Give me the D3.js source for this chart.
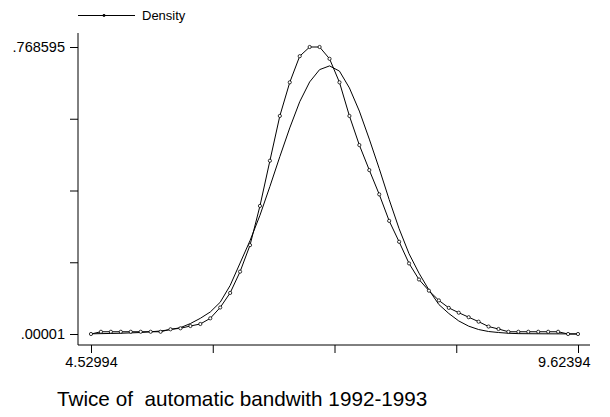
<!DOCTYPE html>
<html>
<head>
<meta charset="utf-8">
<script src="https://cdn.jsdelivr.net/npm/d3@7"></script>
<style>
  body { margin: 0; background: #fff; }
  svg { display: block; font-family: "Liberation Sans", Arial, sans-serif; }
</style>
</head>
<body>
<div id="chart"></div>
<script>
// evaluation grid (log wage) and the two curves
const gridX = [4.5299, 4.6339, 4.7378, 4.8418, 4.9458, 5.0497, 5.1537, 5.2577, 5.3617, 5.4656,
  5.5696, 5.6735, 5.7775, 5.8814, 5.9854, 6.0893, 6.1933, 6.2972, 6.4012, 6.5052,
  6.6091, 6.7131, 6.8170, 6.9210, 7.0250, 7.1289, 7.2329, 7.3368, 7.4408, 7.5447,
  7.6487, 7.7527, 7.8566, 7.9606, 8.0645, 8.1685, 8.2724, 8.3764, 8.4804, 8.5843,
  8.6883, 8.7922, 8.8962, 9.0001, 9.1041, 9.2081, 9.3120, 9.4160, 9.5199, 9.6239];

const density = [0.00001, 0.006, 0.006, 0.006, 0.006, 0.006, 0.006, 0.006, 0.0126, 0.0153,
  0.0214, 0.0268, 0.042, 0.071, 0.110, 0.167, 0.238, 0.343, 0.464, 0.584,
  0.674, 0.744, 0.768595, 0.768595, 0.737, 0.674, 0.584, 0.506, 0.439, 0.374,
  0.303, 0.247, 0.189, 0.146, 0.116, 0.090, 0.070, 0.057, 0.045, 0.033,
  0.020, 0.0134, 0.006, 0.006, 0.006, 0.006, 0.006, 0.006, 0.00001, 0.00001];

const normal = [0.0005, 0.001, 0.0015, 0.002, 0.003, 0.004, 0.006, 0.008, 0.012, 0.017,
  0.028, 0.042, 0.059, 0.085, 0.13, 0.19, 0.25, 0.318, 0.395, 0.475,
  0.552, 0.622, 0.675, 0.708, 0.718, 0.704, 0.659, 0.597, 0.522, 0.443,
  0.360, 0.282, 0.215, 0.163, 0.118, 0.079, 0.055, 0.035, 0.021, 0.012,
  0.0067, 0.004, 0.002, 0.001, 0.0008, 0.0006, 0.0005, 0.0004, 0.0003, 0.0002];

const xTicks = [4.52994, 5.80344, 7.07694, 8.35044, 9.62394];
const yTicks = [0.00001, 0.1921, 0.38430, 0.57645, 0.768595];
const xLabels = ["4.52994", "", "", "", "9.62394"];
const yLabels = [".00001", "", "", "", ".768595"];
const legendLabel = "Density";
const title = "Twice of  automatic bandwith 1992-1993";

const width = 610, height = 417;
const axisX = 78, axisY = 345;

// SCALES
const xScale = d3.scaleLinear().domain([4.52994, 9.62394]).range([91, 578]);
const yScale = d3.scaleLinear().domain([0.00001, 0.768595]).range([334, 47]);

const svg = d3.select("#chart")
  .append("svg")
  .attr("width", width)
  .attr("height", height);

svg.append("rect").attr("width", width).attr("height", height).attr("fill", "#fff");

// AXES
const yAxis = d3.axisLeft(yScale)
  .tickValues(yTicks)
  .tickSize(8)
  .tickPadding(5)
  .tickFormat((d, i) => yLabels[i]);

const xAxis = d3.axisBottom(xScale)
  .tickValues(xTicks)
  .tickSize(8)
  .tickPadding(4)
  .tickFormat((d, i) => xLabels[i]);

const gy = svg.append("g")
  .attr("transform", `translate(${axisX},0)`)
  .call(yAxis);
gy.select(".domain").remove();
gy.selectAll("text").attr("font-size", 14.5).attr("fill", "#000").attr("font-family", null);
gy.selectAll("line").attr("stroke", "#000");

const gx = svg.append("g")
  .attr("transform", `translate(0,${axisY})`)
  .call(xAxis);
gx.select(".domain").remove();
gx.selectAll("text").attr("font-size", 14.5).attr("fill", "#000").attr("font-family", null);
gx.selectAll("line").attr("stroke", "#000");
// last label pulled back inside the axis, like the original
gx.selectAll(".tick").filter((d, i) => i === xTicks.length - 1)
  .select("text").attr("text-anchor", "end").attr("x", 12);

// axis lines
svg.append("line")
  .attr("x1", axisX).attr("x2", axisX)
  .attr("y1", 33).attr("y2", axisY)
  .attr("stroke", "#000");
svg.append("line")
  .attr("x1", axisX).attr("x2", 590)
  .attr("y1", axisY).attr("y2", axisY)
  .attr("stroke", "#000");

// curves
const line = d3.line()
  .x((d) => xScale(d[0]))
  .y((d) => yScale(d[1]));

svg.append("path")
  .datum(d3.zip(gridX, normal))
  .attr("fill", "none")
  .attr("stroke", "#000")
  .attr("stroke-width", 1)
  .attr("d", line);

svg.append("path")
  .datum(d3.zip(gridX, density))
  .attr("fill", "none")
  .attr("stroke", "#000")
  .attr("stroke-width", 1)
  .attr("d", line);

svg.selectAll(".dot")
  .data(d3.zip(gridX, density))
  .join("circle")
  .attr("class", "dot")
  .attr("cx", (d) => xScale(d[0]))
  .attr("cy", (d) => yScale(d[1]))
  .attr("r", 1.6)
  .attr("fill", "#fff")
  .attr("stroke", "#000")
  .attr("stroke-width", 0.8);

// legend
svg.append("line")
  .attr("x1", 78).attr("x2", 135)
  .attr("y1", 15.5).attr("y2", 15.5)
  .attr("stroke", "#000");
svg.append("circle")
  .attr("cx", 104).attr("cy", 15.5).attr("r", 1.4)
  .attr("fill", "#000");
svg.append("text")
  .attr("x", 142).attr("y", 20)
  .attr("font-size", 13)
  .text(legendLabel);

// caption
svg.append("text")
  .attr("x", 57).attr("y", 406)
  .attr("font-size", 20.7)
  .style("white-space", "pre")
  .text(title);
</script>
</body>
</html>
